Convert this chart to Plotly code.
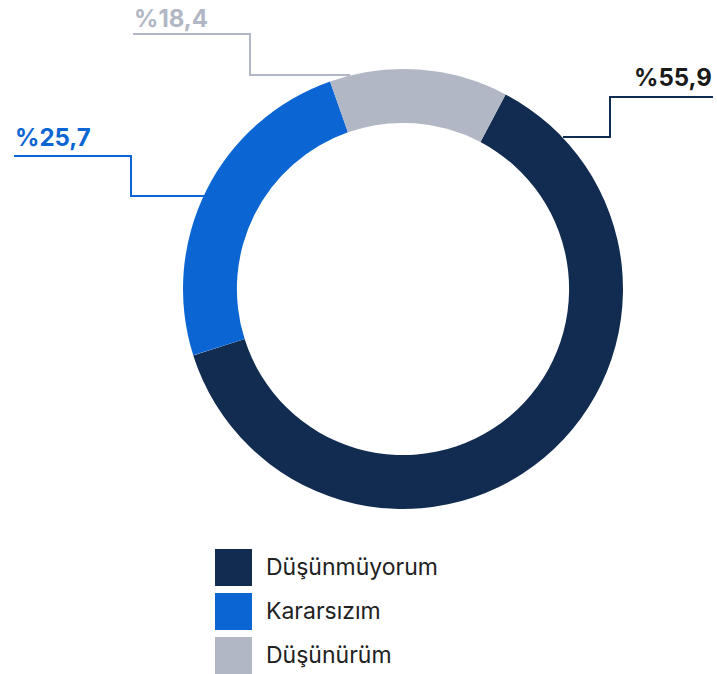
import plotly.graph_objects as go

W, H = 717, 674

categories = ["Düşünmüyorum", "Kararsızım", "Düşünürüm"]
arc_values = [62.4, 24.5, 13.1]
value_labels = ["%55,9", "%25,7", "%18,4"]
colors = ["#122C51", "#0B66D3", "#B1B7C5"]
label_colors = ["#1a1a1a", "#0B66D3", "#B1B7C5"]

def px(x):
    return x / W

def py(y):
    return 1 - y / H

cx, cy, R = 403, 289, 220

fig = go.Figure()
fig.add_trace(go.Pie(
    labels=categories,
    values=arc_values,
    hole=0.755,
    sort=False,
    direction="clockwise",
    rotation=27.8,
    marker=dict(colors=colors, line=dict(width=0)),
    textinfo="none",
    hoverinfo="label+percent",
    showlegend=False,
    domain=dict(x=[px(cx - R), px(cx + R)], y=[py(cy + R), py(cy - R)]),
))

shapes = []
annotations = []

# leader lines (pixel paths)
leaders = [
    [(713, 97), (610, 97), (610, 137), (563, 137)],
    [(14, 156), (131, 156), (131, 196), (205, 196)],
    [(133, 34), (250, 34), (250, 75), (350, 75)],
]
line_colors = ["#122C51", "#0B66D3", "#B1B7C5"]
for pts, c in zip(leaders, line_colors):
    path = "M " + " L ".join(f"{px(x)},{py(y)}" for x, y in pts)
    shapes.append(dict(type="path", xref="paper", yref="paper", path=path,
                       line=dict(color=c, width=2)))

label_pos = [(714, 77, "right"), (13, 138, "left"), (132, 18, "left")]
for (x, y, anc), t, c in zip(label_pos, value_labels, label_colors):
    annotations.append(dict(x=px(x), y=py(y), xref="paper", yref="paper",
                            text=f"<b>{t}</b>", showarrow=False,
                            xanchor=anc, yanchor="middle",
                            font=dict(family="Inter", size=24, color=c)))

# custom legend
for i, (cat, c) in enumerate(zip(categories, colors)):
    top = 549 + i * 44
    shapes.append(dict(type="rect", xref="paper", yref="paper",
                       x0=px(215), x1=px(252), y0=py(top + 37), y1=py(top),
                       fillcolor=c, line=dict(width=0)))
    annotations.append(dict(x=px(264), y=py(top + 18), xref="paper", yref="paper",
                            text=cat, showarrow=False, xanchor="left", yanchor="middle",
                            font=dict(family="Inter", size=23, color="#222222")))

fig.update_layout(
    width=W, height=H,
    margin=dict(l=0, r=0, t=0, b=0),
    paper_bgcolor="white", plot_bgcolor="white",
    shapes=shapes, annotations=annotations,
    showlegend=False,
)

fig.write_html("out.html", config={"displayModeBar": False},
               post_script="document.body.style.margin='0';document.body.style.overflow='hidden';")
